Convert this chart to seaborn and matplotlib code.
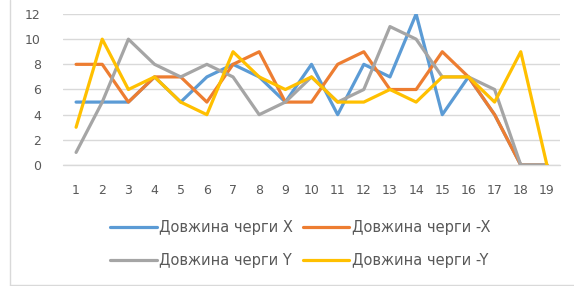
import numpy as np
import pandas as pd
import matplotlib
matplotlib.use("Agg")
import matplotlib.pyplot as plt
import seaborn as sns
from matplotlib.lines import Line2D

x = list(range(1, 20))
queue_x = [5, 5, 5, 7, 5, 7, 8, 7, 5, 8, 4, 8, 7, 12, 4, 7, 4, 0, 0]
queue_neg_x = [8, 8, 5, 7, 7, 5, 8, 9, 5, 5, 8, 9, 6, 6, 9, 7, 4, 0, 0]
queue_y = [1, 5, 10, 8, 7, 8, 7, 4, 5, 7, 5, 6, 11, 10, 7, 7, 6, 0, 0]
queue_neg_y = [3, 10, 6, 7, 5, 4, 9, 7, 6, 7, 5, 5, 6, 5, 7, 7, 5, 9, 0]
series_names = ["Довжина черги X", "Довжина черги -X", "Довжина черги Y", "Довжина черги -Y"]
colors = ["#5B9BD5", "#ED7D31", "#A5A5A5", "#FFC000"]
y_ticks = [0, 2, 4, 6, 8, 10, 12]

sns.set_style("white")
plt.rcParams['font.family'] = ['DejaVu Sans']

frames = []
for name, vals in zip(series_names, [queue_x, queue_neg_x, queue_y, queue_neg_y]):
    frames.append(pd.DataFrame({"x": x, "value": vals, "series": name}))
df = pd.concat(frames, ignore_index=True)

fig = plt.figure(figsize=(5.74, 2.86), dpi=100)
ax = fig.add_axes([63/574, 1-165/286, (560-63)/574, (165-14)/286])

ax.axhline(0, color="#D9D9D9", linewidth=1, clip_on=False, zorder=0)
sns.lineplot(data=df, x="x", y="value", hue="series", palette=colors,
             hue_order=series_names, linewidth=2.3, ax=ax, legend=False)

ax.set_xlim(0.5, 19.5)
ax.set_ylim(0, 12)
ax.set_yticks(y_ticks)
ax.set_xticks(x)
ax.grid(axis="y", color="#D9D9D9", linewidth=1)
ax.set_axisbelow(True)
for s in ax.spines.values():
    s.set_visible(False)
ax.tick_params(axis="both", length=0, labelsize=9, labelcolor="#595959")
ax.tick_params(axis="x", pad=14)
ax.tick_params(axis="y", pad=16)
ax.set_xlabel("")
ax.set_ylabel("")

handles = [Line2D([0], [0], color=c, linewidth=2.3) for c in colors]
order = [0, 2, 1, 3]
fig.legend([handles[i] for i in order], [series_names[i] for i in order],
           loc="center", ncol=2,
           bbox_to_anchor=(300/574, 1-244/286), frameon=False,
           fontsize=10.5, labelcolor="#595959", handlelength=3.2,
           handletextpad=0.15, columnspacing=0.7, labelspacing=1.2)

fig.add_artist(Line2D([10/574, 10/574], [1/286, 1.0], transform=fig.transFigure,
                      color="#D9D9D9", linewidth=1))
fig.add_artist(Line2D([10/574, 1.0], [1.5/286, 1.5/286], transform=fig.transFigure,
                      color="#D9D9D9", linewidth=1))

fig.savefig("out.png", dpi=100)
